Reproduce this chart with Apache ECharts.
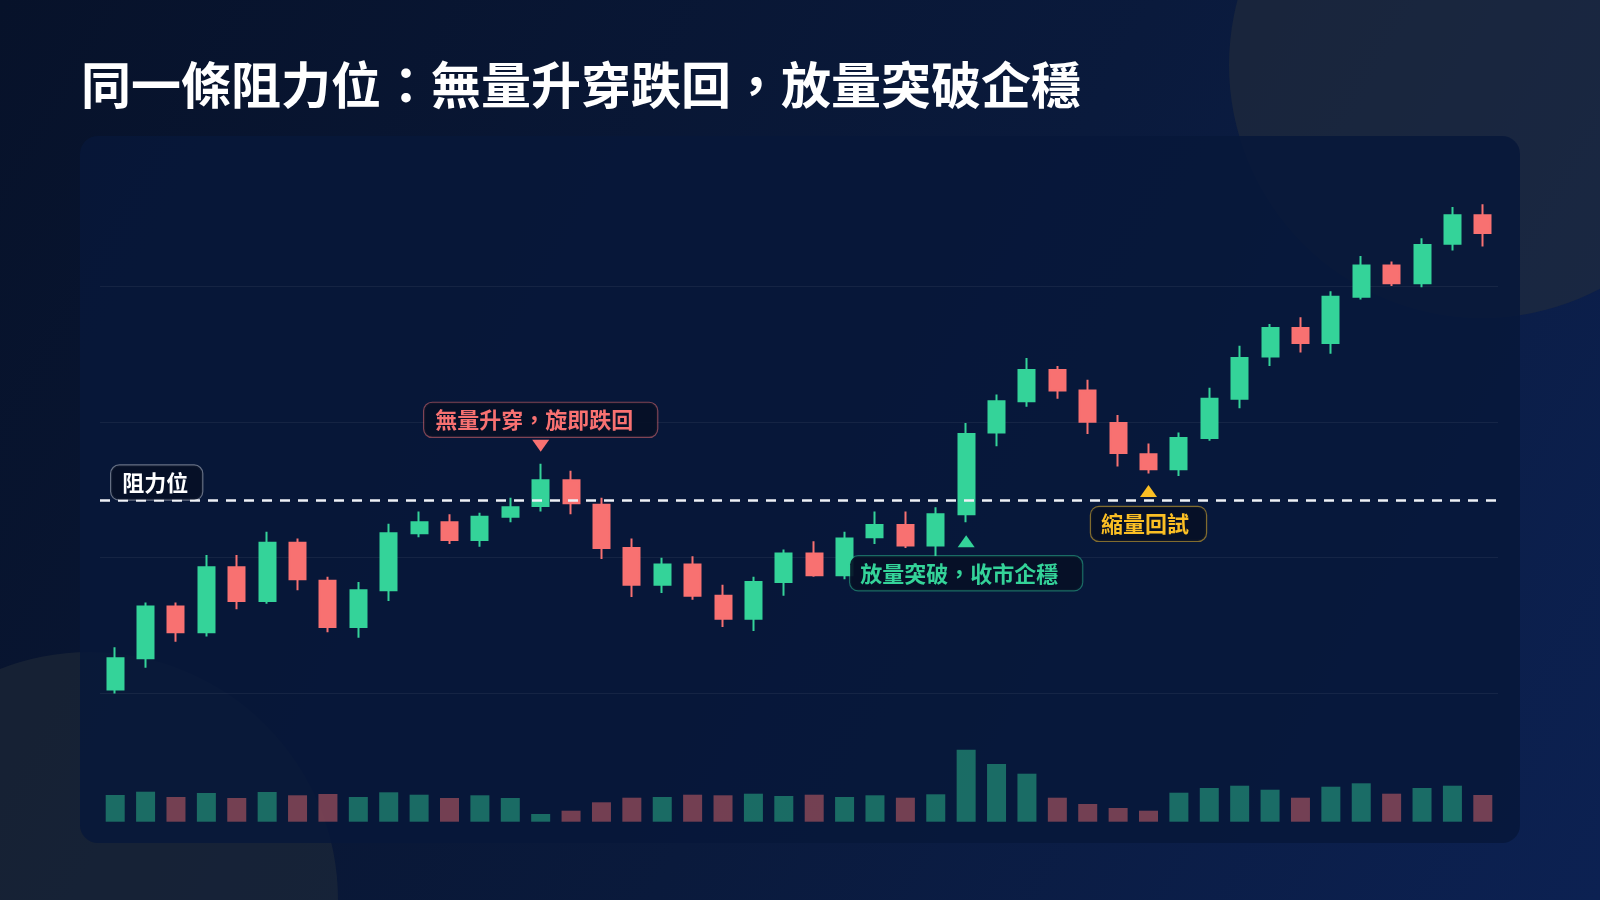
<!DOCTYPE html>
<html>
<head>
<meta charset="utf-8">
<script src="https://cdn.jsdelivr.net/npm/echarts@6/dist/echarts.min.js"></script>
<style>
html,body{margin:0;padding:0;background:#081530;}
#c{width:1600px;height:900px;}
</style>
</head>
<body>
<div id="c"></div>
<script>
// ---------- data ----------
const categories = ['1','2','3','4','5','6','7','8','9','10','11','12','13','14','15','16','17','18','19','20','21','22','23','24','25','26','27','28','29','30','31','32','33','34','35','36','37','38','39','40','41','42','43','44','45','46'];
const openPrices  = [80.3,82.6,86.4,84.5,89.3,86.8,91.1,88.3,84.9,87.6,91.8,92.6,91.3,93.0,93.8,95.7,93.9,90.7,88.0,89.5,87.2,85.5,88.2,90.3,88.7,91.5,92.4,90.9,93.2,99.2,101.5,103.8,102.3,99.9,97.6,96.5,98.8,101.7,104.8,106.9,105.8,109.2,111.5,110.2,113.1,115.2];
const closePrices = [82.6,86.4,84.5,89.3,86.8,91.1,88.4,84.9,87.6,91.8,92.6,91.3,93.0,93.7,95.7,94.0,90.7,88.0,89.5,87.2,85.5,88.2,90.3,88.7,91.4,92.4,90.9,93.2,99.1,101.5,103.8,102.3,100.0,97.7,96.5,98.8,101.7,104.7,106.9,105.8,109.2,111.5,110.2,113.0,115.2,113.9];
const lowPrices   = [80.0,81.9,83.8,84.2,86.2,86.6,87.6,84.5,84.1,86.8,91.5,91.0,90.8,92.6,93.4,93.2,89.9,87.1,87.4,86.9,84.9,84.6,87.2,88.6,88.4,91.0,90.7,90.1,92.6,98.2,101.1,101.7,99.1,96.7,96.2,96.0,98.6,101.0,104.1,105.1,105.0,109.0,110.0,109.9,112.6,112.9];
const highPrices  = [83.4,86.7,86.7,90.2,90.2,91.9,91.4,88.6,88.2,92.5,93.4,93.2,93.3,94.4,96.9,96.4,94.4,91.4,90.0,90.1,88.0,88.6,90.6,91.2,91.9,93.4,93.4,93.7,99.9,102.0,104.7,104.1,103.1,100.5,98.4,99.2,102.5,105.6,107.2,107.7,109.6,112.2,111.8,113.5,115.8,116.0];
const volumes     = [267,300,247,287,237,297,264,277,247,294,270,237,264,237,77,110,194,240,247,270,264,280,257,270,247,264,240,274,720,577,480,240,177,137,110,290,337,360,320,240,350,384,280,337,360,267];
const RESISTANCE = 94.2;

const titleText = '同一條阻力位：無量升穿跌回，放量突破企穩';
const resistanceLabel = '阻力位';
const fakeBreakLabel = '無量升穿，旋即跌回';
const realBreakLabel = '放量突破，收市企穩';
const retestLabel = '縮量回試';
const fakeBreakIdx = 14;
const realBreakIdx = 28;
const retestIdx = 34;

// ---------- style ----------
const UP = '#34d399';
const DOWN = '#f87171';
const AMBER = '#fbbf24';
const UP_DIM = 'rgba(52,211,153,0.45)';
const DOWN_DIM = 'rgba(248,113,113,0.45)';
const FONT = '"Noto Sans CJK TC","Noto Sans CJK SC","Noto Sans",sans-serif';

const candleData = categories.map((_, i) => [openPrices[i], closePrices[i], lowPrices[i], highPrices[i]]);

function boxLabel(text, color, border, offset, pad) {
  return {
    show: true,
    position: 'inside',
    offset: offset,
    formatter: text,
    color: color,
    fontSize: 22,
    fontWeight: 'bold',
    fontFamily: FONT,
    lineHeight: 24,
    backgroundColor: 'rgba(6,16,38,0.92)',
    borderColor: border,
    borderWidth: 1.2,
    borderRadius: 8,
    padding: pad
  };
}

const chart = echarts.init(document.getElementById('c'));
chart.setOption({
  animation: false,
  backgroundColor: {
    type: 'linear', x: 0, y: 0, x2: 1, y2: 1,
    colorStops: [
      { offset: 0, color: '#07122a' },
      { offset: 0.55, color: '#0a1a3c' },
      { offset: 1, color: '#0c2152' }
    ]
  },
  graphic: {
    elements: [
      { type: 'circle', z: -10, silent: true, shape: { cx: 1482, cy: 65, r: 253 }, style: { fill: 'rgba(40,48,58,0.5)' } },
      { type: 'circle', z: -10, silent: true, shape: { cx: 90, cy: 900, r: 248 }, style: { fill: 'rgba(40,48,58,0.45)' } },
      { type: 'rect', z: -5, silent: true, shape: { x: 80, y: 136, width: 1440, height: 707, r: 18 }, style: { fill: 'rgba(7,24,58,0.85)' } }
    ]
  },
  title: {
    text: titleText,
    left: 81,
    top: 60,
    padding: 0,
    textStyle: { color: '#ffffff', fontSize: 50, fontWeight: 'bold', fontFamily: FONT, lineHeight: 50 }
  },
  grid: [
    { left: 100, right: 102, top: 150, height: 543.5 },
    { left: 100, right: 102, top: 721.7, height: 100 }
  ],
  xAxis: [
    { type: 'category', gridIndex: 0, data: categories, boundaryGap: true, axisLine: { show: false }, axisTick: { show: false }, axisLabel: { show: false }, splitLine: { show: false } },
    { type: 'category', gridIndex: 1, data: categories, boundaryGap: true, axisLine: { show: false }, axisTick: { show: false }, axisLabel: { show: false }, splitLine: { show: false } }
  ],
  yAxis: [
    { type: 'value', gridIndex: 0, min: 80, max: 120, interval: 10, axisLine: { show: false }, axisTick: { show: false }, axisLabel: { show: false },
      splitLine: { show: true, showMaxLine: false, lineStyle: { color: 'rgba(255,255,255,0.06)', width: 1 } } },
    { type: 'value', gridIndex: 1, min: 0, max: 1000, axisLine: { show: false }, axisTick: { show: false }, axisLabel: { show: false }, splitLine: { show: false } }
  ],
  series: [
    {
      type: 'candlestick',
      xAxisIndex: 0, yAxisIndex: 0,
      data: candleData,
      barWidth: 16.5,
      itemStyle: { color: UP, color0: DOWN, borderColor: UP, borderColor0: DOWN, borderWidth: 2 },
      markLine: {
        silent: true,
        symbol: 'none',
        label: { show: false },
        lineStyle: { color: '#eef1f6', width: 2.5, type: [10, 8] },
        data: [{ yAxis: RESISTANCE }]
      },
      markPoint: {
        silent: true,
        data: [
          { coord: [0, RESISTANCE], symbol: 'circle', symbolSize: 1, itemStyle: { color: 'transparent' },
            label: boxLabel(resistanceLabel, '#ffffff', 'rgba(255,255,255,0.38)', [41.5, -18], [5, 14, 5, 11]) },
          { coord: [fakeBreakIdx, highPrices[fakeBreakIdx]], symbol: 'triangle', symbolRotate: 180, symbolSize: [17, 12], symbolOffset: [0, -18],
            itemStyle: { color: DOWN }, label: { show: false } },
          { coord: [fakeBreakIdx, highPrices[fakeBreakIdx]], symbol: 'circle', symbolSize: 1, itemStyle: { color: 'transparent' },
            label: boxLabel(fakeBreakLabel, DOWN, 'rgba(248,113,113,0.5)', [0, -44], [5, 24, 5, 11]) },
          { coord: [realBreakIdx, lowPrices[realBreakIdx]], symbol: 'triangle', symbolSize: [17, 12], symbolOffset: [0, 19],
            itemStyle: { color: UP }, label: { show: false } },
          { coord: [realBreakIdx, lowPrices[realBreakIdx]], symbol: 'circle', symbolSize: 1, itemStyle: { color: 'transparent' },
            label: boxLabel(realBreakLabel, UP, 'rgba(52,211,153,0.45)', [0, 51], [5, 24, 5, 10]) },
          { coord: [retestIdx, lowPrices[retestIdx]], symbol: 'triangle', symbolSize: [17, 12], symbolOffset: [0, 17.5],
            itemStyle: { color: AMBER }, label: { show: false } },
          { coord: [retestIdx, lowPrices[retestIdx]], symbol: 'circle', symbolSize: 1, itemStyle: { color: 'transparent' },
            label: boxLabel(retestLabel, AMBER, 'rgba(251,191,36,0.5)', [0, 50.5], [5, 17, 5, 10]) }
        ]
      }
    },
    {
      type: 'bar',
      xAxisIndex: 1, yAxisIndex: 1,
      data: volumes,
      barWidth: 19,
      itemStyle: {
        color: function (p) { return closePrices[p.dataIndex] >= openPrices[p.dataIndex] ? UP_DIM : DOWN_DIM; }
      }
    }
  ]
});
</script>
</body>
</html>
